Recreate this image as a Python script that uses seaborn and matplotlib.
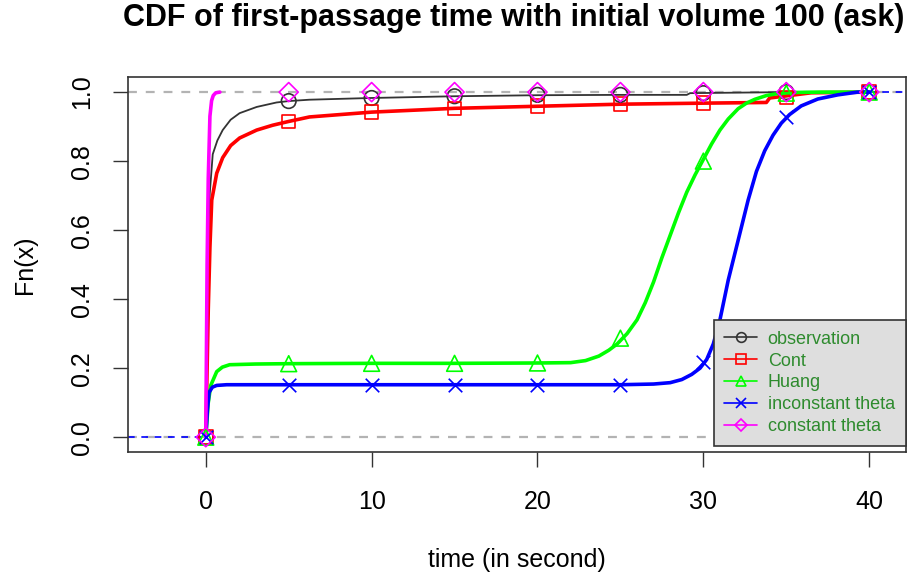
import matplotlib
matplotlib.use("Agg")
import matplotlib.pyplot as plt
from matplotlib.lines import Line2D
import seaborn as sns

sns.set_style("ticks")
plt.rcParams["font.family"] = ["Liberation Sans", "DejaVu Sans"]
plt.rcParams["text.color"] = "black"
plt.rcParams["axes.labelcolor"] = "black"
plt.rcParams["xtick.color"] = "black"
plt.rcParams["ytick.color"] = "black"

# curve points (time, Fn(x))
obs_x = [0, 0.05, 0.12, 0.24, 0.42, 0.7, 1.02, 1.5, 2.04, 3.07, 4.27, 5, 6.25, 10, 15, 20, 25, 29, 29.2, 35, 40]
obs_y = [0, 0.3, 0.54, 0.707, 0.82, 0.86, 0.89, 0.92, 0.939, 0.957, 0.97, 0.974, 0.978, 0.983, 0.988, 0.991, 0.992, 0.992, 0.997, 1.0, 1.0]

cont_x = [0, 0.15, 0.25, 0.36, 0.66, 1.02, 1.5, 2.04, 3.07, 4.03, 5, 6.25, 10, 15, 20, 25, 30, 33.8, 34, 36.5, 40]
cont_y = [0, 0.37, 0.55, 0.687, 0.765, 0.81, 0.845, 0.867, 0.89, 0.904, 0.915, 0.928, 0.942, 0.953, 0.959, 0.965, 0.968, 0.97, 0.983, 0.998, 1.0]

huang_x = [0, 0.15, 0.3, 0.66, 1.0, 1.44, 3, 5, 10, 15, 20, 22.0, 22.9, 23.7, 24.3, 24.8, 25.4, 26.0, 26.5,
           27.0, 27.5, 28.0, 28.5, 29.0, 29.5, 30.0, 30.5, 31.0, 31.5, 32.1, 32.6, 33.1, 33.8, 34.5, 35.5, 37, 40]
huang_y = [0, 0.1, 0.15, 0.19, 0.203, 0.21, 0.212, 0.213, 0.214, 0.214, 0.215, 0.216, 0.222, 0.235, 0.252, 0.27,
           0.3, 0.34, 0.39, 0.45, 0.52, 0.585, 0.65, 0.71, 0.76, 0.805, 0.85, 0.89, 0.922, 0.952, 0.968, 0.979,
           0.99, 0.996, 0.999, 1.0, 1.0]

incon_x = [0, 0.1, 0.2, 0.4, 0.66, 1.26, 5, 10, 15, 20, 25, 27, 28.0, 28.7, 29.3, 29.8, 30.2, 30.6, 31.0,
           31.5, 32.1, 32.7, 33.2, 33.7, 34.2, 34.7, 35.2, 35.9, 36.9, 38.1, 39.3, 40]
incon_y = [0, 0.08, 0.13, 0.145, 0.15, 0.152, 0.152, 0.152, 0.152, 0.152, 0.152, 0.154, 0.158, 0.167, 0.182, 0.2,
           0.225, 0.27, 0.34, 0.455, 0.571, 0.687, 0.77, 0.83, 0.875, 0.91, 0.935, 0.96, 0.98, 0.992, 1.0, 1.0]

const_x = [0, 0.08, 0.15, 0.25, 0.35, 0.45, 0.6, 0.85]
const_y = [0, 0.5, 0.75, 0.93, 0.975, 0.99, 0.998, 1.0]

# marker values at x = 0, 5, ..., 40
mark_x = [0, 5, 10, 15, 20, 25, 30, 35, 40]
obs_m = [0, 0.974, 0.983, 0.988, 0.992, 0.992, 0.997, 1.0, 1.0]
cont_m = [0, 0.915, 0.942, 0.953, 0.959, 0.965, 0.968, 0.985, 1.0]
huang_m = [0, 0.213, 0.214, 0.214, 0.215, 0.287, 0.80, 0.997, 1.0]
incon_m = [0, 0.152, 0.152, 0.152, 0.152, 0.152, 0.218, 0.928, 1.0]
const_m = [0, 1.0, 1.0, 1.0, 1.0, 1.0, 1.0, 1.0, 1.0]

labels = ["observation", "Cont", "Huang", "inconstant theta", "constant theta"]
colors = ["#333333", "#FF0000", "#00FF00", "#0000FF", "#FF00FF"]
markers = ["o", "s", "^", "x", "D"]

fig = plt.figure(figsize=(9.13, 5.81), dpi=100)
ax = fig.add_axes([0.140, 0.222, 0.852, 0.645])

xmin, xmax = -4.7, 42.2

# gray dashed 0/1 reference lines
for h in (0, 1):
    ax.axhline(h, color="#B3B3B3", lw=1.6, ls=(0, (4, 4)), zorder=1)

# blue dashed extensions
sns.lineplot(x=[xmin, 0], y=[0, 0], color="#0000FF", lw=1.2, ls=(0, (4, 4)), ax=ax)
sns.lineplot(x=[40, xmax], y=[1, 1], color="#0000FF", lw=1.2, ls=(0, (4, 4)), ax=ax)

series = [(obs_x, obs_y, obs_m), (cont_x, cont_y, cont_m), (huang_x, huang_y, huang_m),
          (incon_x, incon_y, incon_m), (const_x, const_y, const_m)]
widths = [1.3, 2.6, 2.6, 2.6, 2.6]
for (xs, ys, ms), col, lw in zip(series, colors, widths):
    sns.lineplot(x=xs, y=ys, color=col, lw=lw, sort=False, estimator=None, ax=ax, zorder=3)

sizes = [110, 95, 130, 95, 95]
for (xs, ys, ms), col, mk, sz in zip(series, colors, markers, sizes):
    if mk == "x":
        sns.scatterplot(x=mark_x, y=ms, marker=mk, s=sz, color=col, linewidth=1.2, ax=ax, zorder=4)
    else:
        sns.scatterplot(x=mark_x, y=ms, marker=mk, s=sz, facecolors="none", edgecolor=col,
                        linewidth=1.2, ax=ax, zorder=4)

ax.set_xlim(xmin, xmax)
ax.set_ylim(-0.043, 1.043)
ax.set_xticks([0, 10, 20, 30, 40])
ax.set_yticks([0.0, 0.2, 0.4, 0.6, 0.8, 1.0])
ax.set_yticklabels(["0.0", "0.2", "0.4", "0.6", "0.8", "1.0"], rotation=90, va="center")
ax.tick_params(axis="both", labelsize=18, length=11, width=1, color="#333333")
ax.tick_params(axis="x", pad=16)
ax.tick_params(axis="y", pad=13.5)
for sp in ax.spines.values():
    sp.set_color("#333333")
    sp.set_linewidth(1.2)

ax.set_xlabel("time (in second)", fontsize=18, va="center")
ax.xaxis.set_label_coords(0.5, -0.288)
ax.set_ylabel("Fn(x)", fontsize=18, va="center")
ax.yaxis.set_label_coords(-0.132, 0.5)
fig.suptitle("CDF of first-passage time with initial volume 100 (ask)", fontsize=22,
             fontweight="bold", x=0.563, y=0.995)

handles = [Line2D([0], [0], color=c, lw=1.2, marker=m, markersize=7 if m != "D" else 6,
                  markerfacecolor="none", markeredgecolor=c, markeredgewidth=1.2)
           for c, m in zip(colors, markers)]
leg = ax.legend(handles, labels, loc="lower right", bbox_to_anchor=(1.0, 0.016),
                fontsize=13, labelcolor="#2E8B2E", facecolor="#DEDEDE", edgecolor="#333333",
                fancybox=False, framealpha=1, handlelength=1.8, borderpad=0.6,
                labelspacing=0.27, handletextpad=0.6, borderaxespad=0)
leg.get_frame().set_linewidth(1.2)
leg.set_zorder(10)

fig.savefig("out.png", dpi=100)
